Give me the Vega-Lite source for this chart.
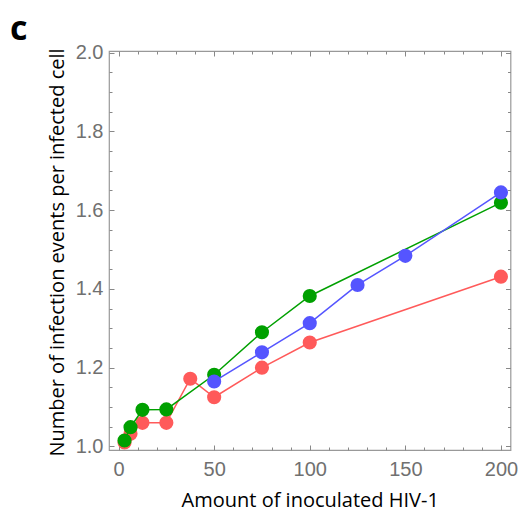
{
  "$schema": "https://vega.github.io/schema/vega-lite/v6.json",
  "autosize": {"type": "none"},
  "width": 401.5,
  "height": 399,
  "padding": {"left": 109, "top": 51, "right": 8.5, "bottom": 63},
  "background": "white",
  "title": {
    "text": "c",
    "anchor": "start",
    "frame": "group",
    "font": "Open Sans",
    "fontSize": 34,
    "fontWeight": "bold",
    "color": "#000000",
    "baseline": "alphabetic",
    "offset": 1,
    "dx": -99,
    "dy": 32
  },
  "config": {
    "view": {"stroke": "#999999", "strokeWidth": 1.2},
    "axis": {"grid": false, "domain": false, "minExtent": 0}
  },
  "data": {
    "values": [
      {"series": "red", "x": 3.125, "y": 1.010},
      {"series": "red", "x": 6.25, "y": 1.032},
      {"series": "red", "x": 12.5, "y": 1.060},
      {"series": "red", "x": 25, "y": 1.060},
      {"series": "red", "x": 37.5, "y": 1.172},
      {"series": "red", "x": 50, "y": 1.125},
      {"series": "red", "x": 75, "y": 1.200},
      {"series": "red", "x": 100, "y": 1.264},
      {"series": "red", "x": 200, "y": 1.431},
      {"series": "green", "x": 3.125, "y": 1.015},
      {"series": "green", "x": 6.25, "y": 1.049},
      {"series": "green", "x": 12.5, "y": 1.093},
      {"series": "green", "x": 25, "y": 1.094},
      {"series": "green", "x": 50, "y": 1.182},
      {"series": "green", "x": 75, "y": 1.290},
      {"series": "green", "x": 100, "y": 1.382},
      {"series": "green", "x": 200, "y": 1.619},
      {"series": "blue", "x": 50, "y": 1.165},
      {"series": "blue", "x": 75, "y": 1.239},
      {"series": "blue", "x": 100, "y": 1.313},
      {"series": "blue", "x": 125, "y": 1.410},
      {"series": "blue", "x": 150, "y": 1.484},
      {"series": "blue", "x": 200, "y": 1.645}
    ]
  },
  "resolve": {"axis": {"x": "independent", "y": "independent"}},
  "layer": [
    {
      "mark": {"type": "point", "opacity": 0},
      "encoding": {
        "x": {
          "field": "x", "type": "quantitative",
          "scale": {"domain": [-5, 205], "nice": false, "zero": false},
          "axis": {
            "orient": "bottom", "values": [0, 50, 100, 150, 200],
            "ticks": false, "labelFlush": false,
            "labelFont": "Liberation Sans", "labelFontSize": 20, "labelColor": "#707070", "labelPadding": 9,
            "title": "Amount of inoculated HIV-1",
            "titleFont": "Open Sans", "titleFontSize": 20, "titleFontWeight": "normal", "titleColor": "#000000",
            "titleBaseline": "alphabetic", "titleY": 56
          }
        },
        "y": {
          "field": "y", "type": "quantitative",
          "scale": {"domain": [0.991, 2.004], "nice": false, "zero": false},
          "axis": {
            "orient": "left", "values": [1.0, 1.2, 1.4, 1.6, 1.8, 2.0], "format": ".1f",
            "ticks": false, "labelFlush": false,
            "labelFont": "Liberation Sans", "labelFontSize": 20, "labelColor": "#707070", "labelPadding": 6,
            "title": "Number of infection events per infected cell",
            "titleFont": "Open Sans", "titleFontSize": 20, "titleFontWeight": "normal", "titleColor": "#000000",
            "titleBaseline": "alphabetic", "titleAngle": -90, "titleAlign": "center", "titleX": -46, "titleY": 201
          }
        }
      }
    },
    {
      "mark": {"type": "point", "opacity": 0},
      "encoding": {
        "x": {"field": "x", "type": "quantitative", "axis": {"orient": "bottom", "values": [0, 50, 100, 150, 200], "labels": false, "title": null, "tickSize": -5, "tickColor": "#888888", "tickWidth": 1}},
        "y": {"field": "y", "type": "quantitative", "axis": {"orient": "left", "values": [1.0, 1.2, 1.4, 1.6, 1.8, 2.0], "labels": false, "title": null, "tickSize": -5, "tickColor": "#888888", "tickWidth": 1}}
      }
    },
    {
      "mark": {"type": "point", "opacity": 0},
      "encoding": {
        "x": {"field": "x", "type": "quantitative", "axis": {"orient": "bottom", "values": [10, 20, 30, 40, 60, 70, 80, 90, 110, 120, 130, 140, 160, 170, 180, 190], "labels": false, "title": null, "tickSize": -3, "tickColor": "#888888", "tickWidth": 1}},
        "y": {"field": "y", "type": "quantitative", "axis": {"orient": "left", "values": [1.05, 1.1, 1.15, 1.25, 1.3, 1.35, 1.45, 1.5, 1.55, 1.65, 1.7, 1.75, 1.85, 1.9, 1.95], "labels": false, "title": null, "tickSize": -3, "tickColor": "#888888", "tickWidth": 1}}
      }
    },
    {
      "mark": {"type": "point", "opacity": 0},
      "encoding": {
        "x": {"field": "x", "type": "quantitative", "axis": {"orient": "top", "values": [0, 50, 100, 150, 200], "labels": false, "title": null, "tickSize": -5, "tickColor": "#888888", "tickWidth": 1}},
        "y": {"field": "y", "type": "quantitative", "axis": {"orient": "right", "values": [1.0, 1.2, 1.4, 1.6, 1.8, 2.0], "labels": false, "title": null, "tickSize": -5, "tickColor": "#888888", "tickWidth": 1}}
      }
    },
    {
      "mark": {"type": "point", "opacity": 0},
      "encoding": {
        "x": {"field": "x", "type": "quantitative", "axis": {"orient": "top", "values": [10, 20, 30, 40, 60, 70, 80, 90, 110, 120, 130, 140, 160, 170, 180, 190], "labels": false, "title": null, "tickSize": -3, "tickColor": "#888888", "tickWidth": 1}},
        "y": {"field": "y", "type": "quantitative", "axis": {"orient": "right", "values": [1.05, 1.1, 1.15, 1.25, 1.3, 1.35, 1.45, 1.5, 1.55, 1.65, 1.7, 1.75, 1.85, 1.9, 1.95], "labels": false, "title": null, "tickSize": -3, "tickColor": "#888888", "tickWidth": 1}}
      }
    },
    {
      "transform": [{"filter": "datum.series === 'red'"}],
      "layer": [
        {"mark": {"type": "line", "color": "#ff5a5a", "strokeWidth": 1.5}},
        {"mark": {"type": "circle", "color": "#ff5a5a", "opacity": 1, "size": 200}}
      ],
      "encoding": {
        "x": {"field": "x", "type": "quantitative", "axis": null},
        "y": {"field": "y", "type": "quantitative", "axis": null}
      }
    },
    {
      "transform": [{"filter": "datum.series === 'green'"}],
      "layer": [
        {"mark": {"type": "line", "color": "#00a000", "strokeWidth": 1.5}},
        {"mark": {"type": "circle", "color": "#00a000", "opacity": 1, "size": 200}}
      ],
      "encoding": {
        "x": {"field": "x", "type": "quantitative", "axis": null},
        "y": {"field": "y", "type": "quantitative", "axis": null}
      }
    },
    {
      "transform": [{"filter": "datum.series === 'blue'"}],
      "layer": [
        {"mark": {"type": "line", "color": "#5555ff", "strokeWidth": 1.5}},
        {"mark": {"type": "circle", "color": "#5555ff", "opacity": 1, "size": 200}}
      ],
      "encoding": {
        "x": {"field": "x", "type": "quantitative", "axis": null},
        "y": {"field": "y", "type": "quantitative", "axis": null}
      }
    }
  ]
}
